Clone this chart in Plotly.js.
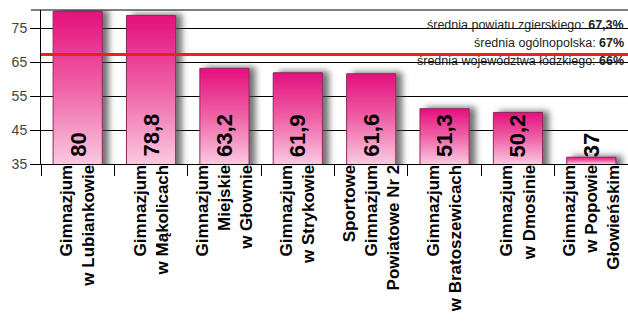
<!DOCTYPE html>
<html>
<head>
<meta charset="utf-8">
<script src="https://cdn.plot.ly/plotly-3.0.1.min.js"></script>
<style>
  html, body { margin: 0; padding: 0; background: #fff; }
  #chart { width: 628px; height: 331px; }
</style>
</head>
<body>
<div id="chart"></div>
<script>
// Schools and their results (%)
const schools = [
  "Gimnazjum<br>w Lubiankowie",
  "Gimnazjum<br>w Mąkolicach",
  "Gimnazjum<br>Miejskie<br>w Głownie",
  "Gimnazjum<br>w Strykowie",
  "Sportowe<br>Gimnazjum<br>Powiatowe Nr 2",
  "Gimnazjum<br>w Bratoszewicach",
  "Gimnazjum<br>w Dmosinie",
  "Gimnazjum<br>w Popowie<br>Głowieńskim"
];
const results = [80, 78.8, 63.2, 61.9, 61.6, 51.3, 50.2, 37];

// Reference averages shown in the corner
const avgNames = ["średnia powiatu zgierskiego", "średnia ogólnopolska", "średnia województwa łódzkiego"];
const avgValues = [67.3, 67, 66];

const yTicks = [35, 45, 55, 65, 75];

const fmt = v => String(v).replace(".", ",");
const FONT = "Liberation Sans, Arial, Helvetica, sans-serif";
const Y_MIN = 35, Y_MAX = 80.4;

const trace = {
  type: "bar",
  x: schools,
  y: results,
  width: 0.67,
  marker: { color: "#ee5aa2", line: { color: "#8e2a5c", width: 1 } },
  hoverinfo: "skip"
};

// Value labels written vertically from the base of each bar
const valueLabels = results.map((v, i) => ({
  x: schools[i], y: Y_MIN, xref: "x", yref: "y",
  text: "<b>" + fmt(v) + "</b>",
  textangle: -90, showarrow: false,
  xanchor: "center", yanchor: "bottom", yshift: 5,
  font: { family: FONT, size: 22, color: "#000" }
}));

// Average lines of text, right aligned at the top right
const avgRows = [76.0, 70.7, 65.4];
const avgLabels = avgNames.map((n, i) => ({
  x: 1, xref: "paper", xanchor: "right", xshift: -2,
  y: avgRows[i], yref: "y", yanchor: "middle",
  text: n + ": <b>" + fmt(avgValues[i]) + "%</b>",
  showarrow: false,
  font: { family: FONT, size: 12.5, color: "#222" }
}));

const layout = {
  width: 628, height: 331,
  margin: { l: 41, r: 0, t: 10, b: 167, pad: 0 },
  paper_bgcolor: "#fff", plot_bgcolor: "#fff",
  showlegend: false,
  font: { family: FONT },
  xaxis: {
    type: "category",
    tickson: "boundaries",
    ticks: "outside", ticklen: 11, tickcolor: "#000", tickwidth: 1,
    showline: true, linecolor: "#000", linewidth: 1,
    tickangle: -90,
    ticklabelstandoff: -7,
    tickfont: { family: FONT, size: 17, color: "#000", weight: "bold" },
    showgrid: false, zeroline: false, fixedrange: true
  },
  yaxis: {
    range: [Y_MIN, Y_MAX],
    tickvals: yTicks,
    ticktext: yTicks.map(String),
    ticks: "outside", ticklen: 10, tickcolor: "#000", tickwidth: 1,
    showline: true, linecolor: "#000", linewidth: 1,
    showgrid: true, gridcolor: "#000", gridwidth: 1,
    zeroline: false,
    tickfont: { family: FONT, size: 14, color: "#444" },
    fixedrange: true
  },
  shapes: [
    // top frame line, running out over the tick side
    { type: "line", xref: "paper", yref: "paper", x0: -10 / 587, x1: 1, y0: 1, y1: 1,
      line: { color: "#000", width: 1 } },
    // county average line
    { type: "line", xref: "paper", yref: "y", x0: 0, x1: 1, y0: avgValues[0], y1: avgValues[0],
      line: { color: "#e8202a", width: 3 }, layer: "above" }
  ],
  annotations: valueLabels.concat(avgLabels)
};

Plotly.newPlot("chart", [trace], layout, { staticPlot: true, displayModeBar: false }).then(gd => {
  const svg = gd.querySelector("svg.main-svg");
  const NS = "http://www.w3.org/2000/svg";
  let defs = svg.querySelector("defs");
  if (!defs) { defs = document.createElementNS(NS, "defs"); svg.insertBefore(defs, svg.firstChild); }

  // soft grey shadow cast to the right of each bar
  const filt = document.createElementNS(NS, "filter");
  filt.setAttribute("id", "barShadow");
  filt.setAttribute("x", "-30%"); filt.setAttribute("y", "-30%");
  filt.setAttribute("width", "170%"); filt.setAttribute("height", "160%");
  filt.innerHTML = '<feDropShadow dx="6" dy="-1" stdDeviation="3" flood-color="#444" flood-opacity="0.75"/>';
  defs.appendChild(filt);

  const plotH = gd._fullLayout._size.h;
  const paths = gd.querySelectorAll(".barlayer .point path");
  paths.forEach((p, i) => {
    const bb = p.getBBox();
    const top = bb.y;
    const bottom = Math.min(bb.y + bb.height, plotH);
    const g = document.createElementNS(NS, "linearGradient");
    g.setAttribute("id", "barGrad" + i);
    g.setAttribute("gradientUnits", "userSpaceOnUse");
    g.setAttribute("x1", 0); g.setAttribute("x2", 0);
    g.setAttribute("y1", top); g.setAttribute("y2", bottom);
    g.innerHTML = '<stop offset="0" stop-color="#e4107d"/>' +
                  '<stop offset="0.5" stop-color="#ef62a7"/>' +
                  '<stop offset="1" stop-color="#fac9e0"/>';
    defs.appendChild(g);
    p.style.fill = "url(#barGrad" + i + ")";
    p.style.filter = "url(#barShadow)";
  });
});
</script>
</body>
</html>
